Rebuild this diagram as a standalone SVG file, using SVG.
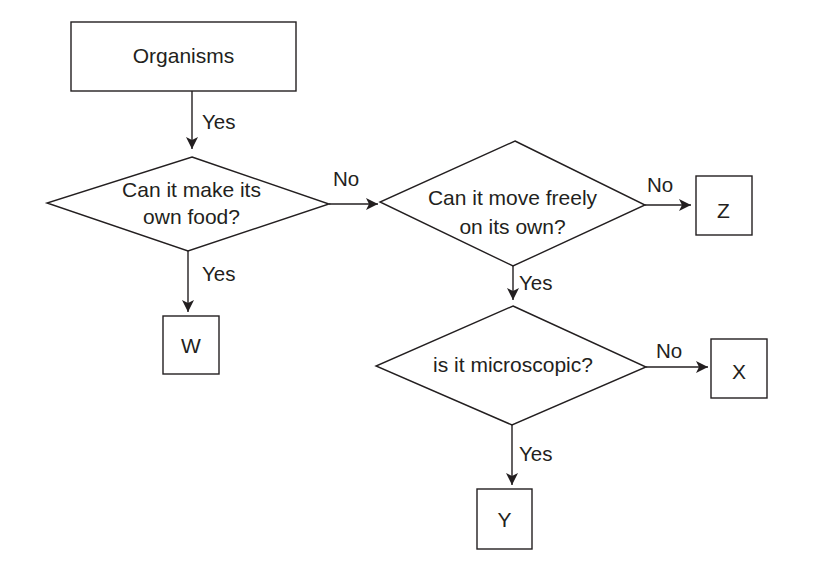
<svg xmlns="http://www.w3.org/2000/svg" width="814" height="570" viewBox="0 0 814 570">
<style>
.s{fill:#fff;stroke:#231f20;stroke-width:1.4}
.t{font-family:"Liberation Sans",Arial,sans-serif;font-size:21px;fill:#231f20;text-anchor:middle}
.l{font-family:"Liberation Sans",Arial,sans-serif;font-size:20.5px;fill:#231f20}
.c{stroke:#231f20;stroke-width:1.4;fill:none;marker-end:url(#a)}
</style>
<defs>
<marker id="a" markerUnits="userSpaceOnUse" markerWidth="14" markerHeight="14" viewBox="0 0 14 14" refX="12" refY="7" orient="auto">
<path d="M0,1 L12,7 L0,13 L3,7 Z" fill="#231f20"/>
</marker>
</defs>
<rect width="814" height="570" fill="#fff"/>
<g id="connectors">
<line class="c" x1="192" y1="91" x2="192" y2="149"/>
<line class="c" x1="329" y1="204" x2="378" y2="204"/>
<line class="c" x1="188" y1="251" x2="188" y2="312"/>
<line class="c" x1="645" y1="205" x2="691" y2="205"/>
<line class="c" x1="513" y1="266" x2="513" y2="300"/>
<line class="c" x1="646" y1="367" x2="708" y2="367"/>
<line class="c" x1="512" y1="425" x2="512" y2="485"/>
<text class="l" x="202" y="129">Yes</text>
<text class="l" x="333" y="186">No</text>
<text class="l" x="202" y="281">Yes</text>
<text class="l" x="647" y="192">No</text>
<text class="l" x="519" y="290">Yes</text>
<text class="l" x="656" y="358">No</text>
<text class="l" x="519" y="461">Yes</text>
</g>
<g id="organisms">
<rect class="s" x="71" y="22" width="225" height="69"/>
<text class="t" x="183.5" y="63">Organisms</text>
</g>
<g id="food">
<polygon class="s" points="192,157 329,204 188,251 47,203"/>
<text class="t" x="191.5" y="197">Can it make its</text>
<text class="t" x="191.5" y="224">own food?</text>
</g>
<g id="move">
<polygon class="s" points="515,141 645,205 513,266 380,202"/>
<text class="t" x="512.5" y="205">Can it move freely</text>
<text class="t" x="512.5" y="234">on its own?</text>
</g>
<g id="micro">
<polygon class="s" points="513,306 646,367 512,425 376,366"/>
<text class="t" x="513" y="372">is it microscopic?</text>
</g>
<g id="W">
<rect class="s" x="163" y="316" width="56" height="58"/>
<text class="t" x="191" y="353">W</text>
</g>
<g id="Z">
<rect class="s" x="696" y="176" width="56" height="59"/>
<text class="t" x="723.5" y="218">Z</text>
</g>
<g id="X">
<rect class="s" x="711" y="339" width="56" height="59"/>
<text class="t" x="739" y="379">X</text>
</g>
<g id="Y">
<rect class="s" x="477" y="489" width="55" height="60"/>
<text class="t" x="504.5" y="527">Y</text>
</g>
</svg>
